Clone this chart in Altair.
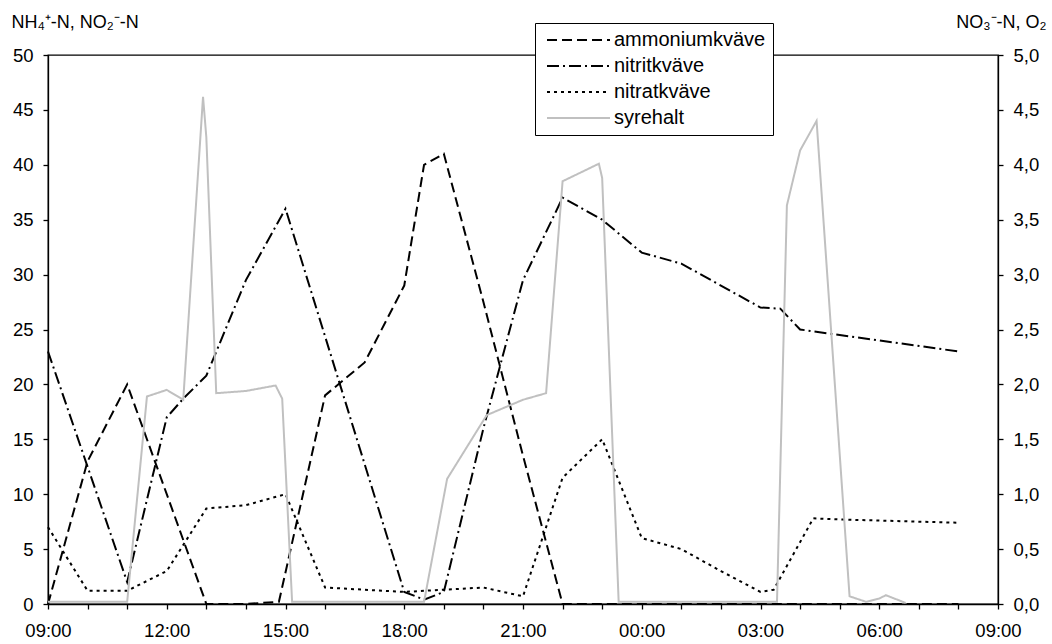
import altair as alt
import pandas as pd

series_names = ["ammoniumkväve", "nitritkväve", "nitratkväve", "syrehalt"]

# left axis (NH4+-N, NO2--N)
amm_time = ["09:00", "10:00", "11:00", "13:00", "14:00", "14:50", "16:00", "17:00",
            "18:00", "18:30", "19:00", "20:00", "21:00", "22:00", "08:00"]
amm_val = [0, 13, 20, 0, 0, 0.2, 19, 22, 29, 40, 41, 27.5, 13.5, 0, 0]

nit_time = ["09:00", "11:00", "12:00", "12:25", "13:00", "14:00", "15:00", "18:00",
            "18:30", "19:00", "20:00", "21:00", "22:00", "23:00", "00:00", "01:00",
            "03:00", "03:30", "04:00", "08:00"]
nit_val = [23, 2, 17, 18.7, 20.8, 29.5, 36, 1.1, 0.4, 1.1, 16, 29.5, 37, 35, 32, 31,
           27, 26.9, 25, 23]

# right axis (NO3--N, O2)
nat_time = ["09:00", "10:00", "11:00", "12:00", "13:00", "14:00", "15:00", "16:00",
            "17:00", "18:00", "19:00", "20:00", "21:00", "22:00", "23:00", "00:00",
            "01:00", "02:00", "03:00", "03:20", "04:20", "05:00", "06:00", "07:00", "08:00"]
nat_val = [0.70, 0.12, 0.12, 0.30, 0.87, 0.90, 1.0, 0.15, 0.13, 0.11, 0.13, 0.15, 0.07,
           1.15, 1.5, 0.6, 0.5, 0.3, 0.11, 0.13, 0.78, 0.77, 0.76, 0.75, 0.74]

oxy_time = ["09:00", "11:00", "11:30", "12:00", "12:25", "12:55", "13:00", "13:15",
            "14:00", "14:45", "14:55", "15:10", "18:30", "19:05", "20:05", "21:00",
            "21:35", "22:00", "22:55", "23:00", "23:25", "03:25", "03:40", "04:00",
            "04:25", "05:15", "05:40", "06:00", "06:10", "06:40"]
oxy_val = [0.02, 0.02, 1.89, 1.95, 1.86, 4.62, 4.25, 1.92, 1.94, 1.99, 1.87, 0.02, 0.02,
           1.14, 1.72, 1.86, 1.92, 3.85, 4.01, 3.88, 0.02, 0.02, 3.63, 4.13, 4.40, 0.07,
           0.02, 0.05, 0.08, 0.01]


def to_hours(s):
    h, m = map(int, s.split(":"))
    v = h + m / 60 - 9
    if v < 0:
        v += 24
    return v


rows = []
for name, times, vals in [
    (series_names[0], amm_time, amm_val),
    (series_names[1], nit_time, nit_val),
    (series_names[2], nat_time, nat_val),
    (series_names[3], oxy_time, oxy_val),
]:
    for t, v in zip(times, vals):
        rows.append({"t": to_hours(t), "value": v, "series": name})
df = pd.DataFrame(rows)

FONT = "Liberation Sans"

color_scale = alt.Scale(domain=series_names, range=["#000000", "#000000", "#000000", "#c0c0c0"])
dash_scale = alt.Scale(domain=series_names, range=[[10, 5], [12, 4, 2, 4], [3, 4], [1, 0]])

x_enc = alt.X(
    "t:Q",
    scale=alt.Scale(domain=[0, 24], nice=False, zero=False),
    axis=alt.Axis(
        title=None,
        values=list(range(0, 25)),
        labelExpr="datum.value % 3 == 0 ? ((((datum.value + 9) % 24) < 10 ? '0' : '') + ((datum.value + 9) % 24) + ':00') : ''",
        grid=False,
        tickSize=5,
        tickColor="black",
        tickWidth=1.3,
        domainColor="black",
        domainWidth=1.3,
        labelFont=FONT,
        labelFontSize=18.5,
        labelColor="black",
        labelPadding=12,
        labelFlush=False,
    ),
)

color_enc = alt.Color(
    "series:N",
    scale=color_scale,
    sort=series_names,
    legend=alt.Legend(
        title=None,
        orient="none",
        legendX=487,
        legendY=-32,
        strokeColor="black",
        fillColor="white",
        padding=7,
        labelFont=FONT,
        labelFontSize=20,
        labelColor="black",
        symbolType="M-7.875,0H7.875",
        symbolSize=64,
        symbolOffset=26.5,
        labelOffset=25.5,
        symbolStrokeWidth=2,
        rowPadding=6,
        labelLimit=300,
    ),
)
dash_enc = alt.StrokeDash("series:N", scale=dash_scale, sort=series_names, legend=alt.Legend(title=None))

left = (
    alt.Chart(df)
    .transform_filter(alt.FieldOneOfPredicate(field="series", oneOf=series_names[:2]))
    .mark_line(strokeWidth=2, strokeCap="butt")
    .encode(
        x=x_enc,
        y=alt.Y(
            "value:Q",
            scale=alt.Scale(domain=[0, 50], nice=False),
            axis=alt.Axis(
                orient="left",
                values=list(range(0, 51, 5)),
                grid=False,
                title="NH₄⁺-N, NO₂⁻-N",
                titleAngle=0,
                titleAlign="left",
                titleBaseline="alphabetic",
                titleX=-37,
                titleY=-28,
                titleFont=FONT,
                titleFontSize=18,
                titleFontWeight="normal",
                titleColor="black",
                tickSize=5,
                tickColor="black",
                tickWidth=1.3,
                domainColor="black",
                domainWidth=1.3,
                labelFont=FONT,
                labelFontSize=18.5,
                labelColor="black",
                labelPadding=10,
            ),
        ),
        color=color_enc,
        strokeDash=dash_enc,
        order="t:Q",
    )
)

right = (
    alt.Chart(df)
    .transform_filter(alt.FieldOneOfPredicate(field="series", oneOf=series_names[2:]))
    .mark_line(strokeWidth=2, strokeCap="butt")
    .encode(
        x=x_enc,
        y=alt.Y(
            "value:Q",
            scale=alt.Scale(domain=[0, 5], nice=False),
            axis=alt.Axis(
                orient="right",
                values=[i / 2 for i in range(11)],
                labelExpr="replace(format(datum.value, '.1f'), '.', ',')",
                grid=False,
                title="NO₃⁻-N, O₂",
                titleAngle=0,
                titleAlign="right",
                titleBaseline="alphabetic",
                titleX=48,
                titleY=-28,
                titleFont=FONT,
                titleFontSize=18,
                titleFontWeight="normal",
                titleColor="black",
                tickSize=5,
                tickColor="black",
                tickWidth=1.3,
                domainColor="black",
                domainWidth=1.3,
                labelFont=FONT,
                labelFontSize=18.5,
                labelColor="black",
                labelPadding=10,
            ),
        ),
        color=color_enc,
        strokeDash=dash_enc,
        order="t:Q",
    )
)

chart = (
    alt.layer(left, right)
    .resolve_scale(y="independent")
    .properties(
        width=950,
        height=549,
        autosize=alt.AutoSizeParams(type="none"),
        padding={"left": 48, "top": 55, "right": 54, "bottom": 40},
        background="white",
    )
    .configure_view(stroke="black", strokeWidth=1.3)
)

chart.save("out.html", embed_options={"renderer": "svg", "actions": False})
